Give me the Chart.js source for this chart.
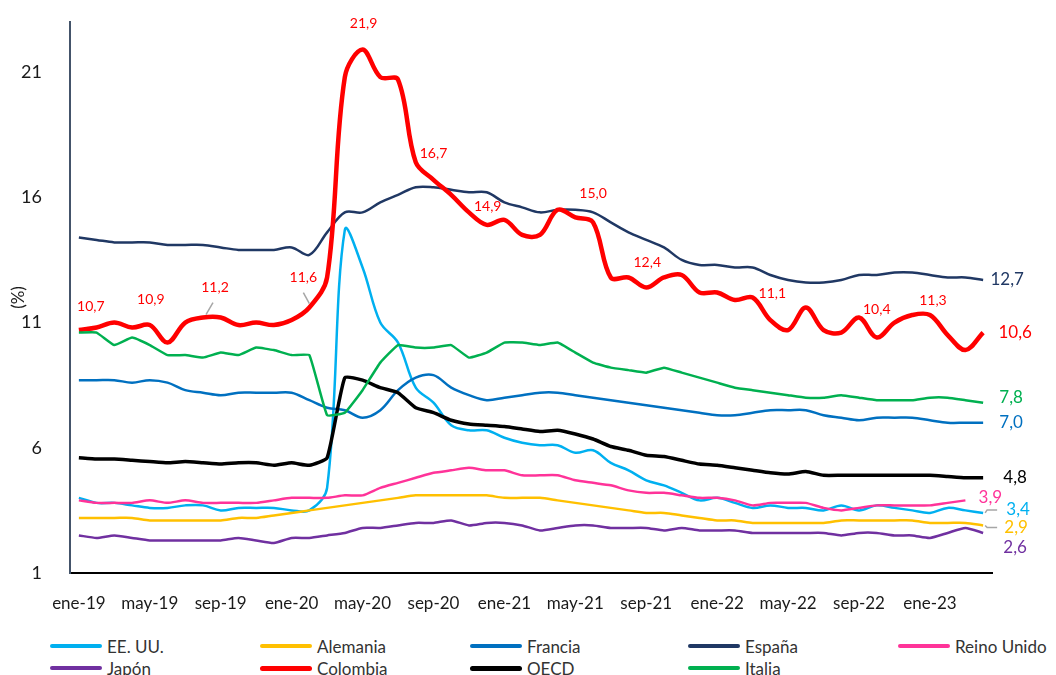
<!DOCTYPE html>
<html>
<head>
<meta charset="utf-8">
<script src="https://cdn.jsdelivr.net/npm/chart.js@4"></script>
<style>
  html, body { margin: 0; padding: 0; background: #fff; }
  #wrap { position: relative; width: 1056px; height: 675px; font-family: Lato, sans-serif; }
  #chart { position: absolute; left: 0; top: 0; }
  .item { position: absolute; display: flex; align-items: center; height: 22px; font-size: 17px; color: #333; }
  .item i { display: inline-block; width: 52px; border-radius: 3px; margin-right: 5px; }
</style>
</head>
<body>
<div id="wrap">
  <canvas id="chart" width="1056" height="620"></canvas>
  <div id="legend"></div>
</div>
<script>
// months ene-19 .. abr-23
const monthNames = ['ene', 'feb', 'mar', 'abr', 'may', 'jun', 'jul', 'ago', 'sep', 'oct', 'nov', 'dic'];
const years = ['19', '20', '21', '22', '23'];
const months = [];
years.forEach(y => monthNames.forEach(m => months.push(m + '-' + y)));
months.length = 52;

const yTicks = [1, 6, 11, 16, 21];

const eeuu = [4.0, 3.8, 3.8, 3.7, 3.6, 3.6, 3.7, 3.7, 3.5, 3.6, 3.6, 3.6,
  3.5, 3.5, 4.4, 14.7, 13.2, 11.0, 10.2, 8.4, 7.8, 6.9, 6.7, 6.7,
  6.4, 6.2, 6.1, 6.1, 5.8, 5.9, 5.4, 5.1, 4.7, 4.5, 4.2, 3.9,
  4.0, 3.8, 3.6, 3.7, 3.6, 3.6, 3.5, 3.7, 3.5, 3.7, 3.6, 3.5,
  3.4, 3.6, 3.5, 3.4];
const alemania = [3.2, 3.2, 3.2, 3.2, 3.1, 3.1, 3.1, 3.1, 3.1, 3.2, 3.2, 3.3,
  3.4, 3.5, 3.6, 3.7, 3.8, 3.9, 4.0, 4.1, 4.1, 4.1, 4.1, 4.1,
  4.0, 4.0, 4.0, 3.9, 3.8, 3.7, 3.6, 3.5, 3.4, 3.4, 3.3, 3.2,
  3.1, 3.1, 3.0, 3.0, 3.0, 3.0, 3.0, 3.1, 3.1, 3.1, 3.1, 3.1,
  3.0, 3.0, 3.0, 2.9];
const francia = [8.7, 8.7, 8.7, 8.6, 8.7, 8.6, 8.3, 8.2, 8.1, 8.2, 8.2, 8.2,
  8.2, 7.9, 7.6, 7.5, 7.2, 7.5, 8.3, 8.8, 8.9, 8.4, 8.1, 7.9,
  8.0, 8.1, 8.2, 8.2, 8.1, 8.0, 7.9, 7.8, 7.7, 7.6, 7.5, 7.4,
  7.3, 7.3, 7.4, 7.5, 7.5, 7.5, 7.3, 7.2, 7.1, 7.2, 7.2, 7.2,
  7.1, 7.0, 7.0, 7.0];
const espana = [14.4, 14.3, 14.2, 14.2, 14.2, 14.1, 14.1, 14.1, 14.0, 13.9, 13.9, 13.9,
  14.0, 13.7, 14.6, 15.4, 15.4, 15.8, 16.1, 16.4, 16.4, 16.3, 16.2, 16.2,
  15.8, 15.6, 15.4, 15.5, 15.5, 15.4, 15.0, 14.6, 14.3, 14.0, 13.5, 13.3,
  13.3, 13.2, 13.2, 12.9, 12.7, 12.6, 12.6, 12.7, 12.9, 12.9, 13.0, 13.0,
  12.9, 12.8, 12.8, 12.7];
const reinoUnido = [3.9, 3.8, 3.8, 3.8, 3.9, 3.8, 3.9, 3.8, 3.8, 3.8, 3.8, 3.9,
  4.0, 4.0, 4.0, 4.1, 4.1, 4.4, 4.6, 4.8, 5.0, 5.1, 5.2, 5.1,
  5.1, 4.9, 4.9, 4.9, 4.7, 4.6, 4.5, 4.3, 4.2, 4.2, 4.1, 4.0,
  4.0, 3.9, 3.7, 3.8, 3.8, 3.8, 3.6, 3.5, 3.6, 3.7, 3.7, 3.7,
  3.7, 3.8, 3.9, null];
const japon = [2.5, 2.4, 2.5, 2.4, 2.3, 2.3, 2.3, 2.3, 2.3, 2.4, 2.3, 2.2,
  2.4, 2.4, 2.5, 2.6, 2.8, 2.8, 2.9, 3.0, 3.0, 3.1, 2.9, 3.0,
  3.0, 2.9, 2.7, 2.8, 2.9, 2.9, 2.8, 2.8, 2.8, 2.7, 2.8, 2.7,
  2.7, 2.7, 2.6, 2.6, 2.6, 2.6, 2.6, 2.5, 2.6, 2.6, 2.5, 2.5,
  2.4, 2.6, 2.8, 2.6];
const colombia = [10.7, 10.8, 11.0, 10.8, 10.9, 10.2, 11.0, 11.2, 11.2, 10.9, 11.0, 10.9,
  11.1, 11.6, 12.8, 20.8, 21.9, 20.8, 20.7, 17.4, 16.7, 16.1, 15.4, 14.9,
  15.1, 14.5, 14.5, 15.5, 15.2, 15.0, 12.8, 12.8, 12.4, 12.8, 12.9, 12.2,
  12.2, 11.9, 12.0, 11.1, 10.7, 11.6, 10.7, 10.6, 11.2, 10.4, 11.0, 11.3,
  11.3, 10.5, 9.9, 10.6];
const oecd = [5.6, 5.55, 5.55, 5.5, 5.45, 5.4, 5.45, 5.4, 5.35, 5.4, 5.4, 5.3,
  5.4, 5.3, 5.6, 8.8, 8.7, 8.4, 8.2, 7.6, 7.4, 7.1, 6.95, 6.9,
  6.85, 6.75, 6.65, 6.7, 6.55, 6.35, 6.05, 5.9, 5.7, 5.65, 5.5, 5.35,
  5.3, 5.2, 5.1, 5.0, 4.95, 5.05, 4.9, 4.9, 4.9, 4.9, 4.9, 4.9,
  4.9, 4.85, 4.8, 4.8];
const italia = [10.6, 10.6, 10.1, 10.4, 10.1, 9.7, 9.7, 9.6, 9.8, 9.7, 10.0, 9.9,
  9.7, 9.7, 7.3, 7.4, 8.3, 9.4, 10.1, 10.0, 10.0, 10.1, 9.6, 9.8,
  10.2, 10.2, 10.1, 10.2, 9.8, 9.4, 9.2, 9.1, 9.0, 9.2, 9.0, 8.8,
  8.6, 8.4, 8.3, 8.2, 8.1, 8.0, 8.0, 8.1, 8.0, 7.9, 7.9, 7.9,
  8.0, 8.0, 7.9, 7.8];

// series in Excel order (last one drawn on top)
const series = [
  { label: 'EE. UU.', data: eeuu, color: '#00B0F0', width: 2.5, tension: 0.35 },
  { label: 'Alemania', data: alemania, color: '#FFC000', width: 2.5, tension: 0.3 },
  { label: 'Francia', data: francia, color: '#0070C0', width: 2.5, tension: 0.35 },
  { label: 'España', data: espana, color: '#203864', width: 2.5, tension: 0.35 },
  { label: 'Reino Unido', data: reinoUnido, color: '#FF3399', width: 2.5, tension: 0.2 },
  { label: 'Japón', data: japon, color: '#7030A0', width: 2.5, tension: 0.2 },
  { label: 'Colombia', data: colombia, color: '#FF0000', width: 4.5, tension: 0.35 },
  { label: 'OECD', data: oecd, color: '#000000', width: 3.5, tension: 0.15 },
  { label: 'Italia', data: italia, color: '#00B050', width: 2.5, tension: 0.1 }
];

// value labels: series, point index, offset from the point, font size, optional leader line
const pointLabels = [
  { s: 'Colombia', i: 0, dx: 12, dy: -24, size: 14 },
  { s: 'Colombia', i: 4, dx: 1, dy: -26, size: 14 },
  { s: 'Colombia', i: 7, dx: 12, dy: -30, size: 14, leader: [[3, -3], [10, -15]] },
  { s: 'Colombia', i: 13, dx: -6, dy: -30, size: 14, leader: [[-6, -15], [0, -4]] },
  { s: 'Colombia', i: 16, dx: 1, dy: -26, size: 14 },
  { s: 'Colombia', i: 20, dx: 0, dy: -26, size: 14 },
  { s: 'Colombia', i: 23, dx: 1, dy: -18, size: 14 },
  { s: 'Colombia', i: 29, dx: 0, dy: -29, size: 14 },
  { s: 'Colombia', i: 32, dx: 1, dy: -25, size: 14 },
  { s: 'Colombia', i: 39, dx: 2, dy: -27, size: 14 },
  { s: 'Colombia', i: 45, dx: 0, dy: -28, size: 14 },
  { s: 'Colombia', i: 48, dx: 3, dy: -15, size: 14 },
  { s: 'Colombia', i: 51, dx: 32, dy: 0, size: 17 },
  { s: 'España', i: 51, dx: 24, dy: 0, size: 17 },
  { s: 'Italia', i: 51, dx: 28, dy: -5, size: 17 },
  { s: 'Francia', i: 51, dx: 28, dy: 0, size: 17 },
  { s: 'OECD', i: 51, dx: 32, dy: 0, size: 17 },
  { s: 'Reino Unido', i: 50, dx: 25, dy: -3, size: 17 },
  { s: 'EE. UU.', i: 51, dx: 35, dy: -3, size: 17, leader: [[2, 0], [4, -3], [14, -3]] },
  { s: 'Alemania', i: 51, dx: 33, dy: 2, size: 17, leader: [[2, 0], [4, 2], [14, 2]] },
  { s: 'Japón', i: 51, dx: 32, dy: 15, size: 17 }
];

const fmt = v => v.toFixed(1).replace('.', ',');

const valueLabels = {
  id: 'valueLabels',
  afterDatasetsDraw(chart) {
    const ctx = chart.ctx;
    ctx.save();
    ctx.textAlign = 'center';
    ctx.textBaseline = 'middle';
    pointLabels.forEach(lb => {
      const di = series.findIndex(s => s.label === lb.s);
      const ds = chart.data.datasets[di];
      const pt = chart.getDatasetMeta(di).data[lb.i];
      if (lb.leader) {
        ctx.strokeStyle = '#A6A6A6';
        ctx.lineWidth = 1.5;
        ctx.beginPath();
        lb.leader.forEach((p, k) => {
          if (k === 0) ctx.moveTo(pt.x + p[0], pt.y + p[1]);
          else ctx.lineTo(pt.x + p[0], pt.y + p[1]);
        });
        ctx.stroke();
      }
      ctx.font = lb.size + 'px Lato';
      ctx.fillStyle = ds.borderColor;
      ctx.fillText(fmt(ds.data[lb.i]), pt.x + lb.dx, pt.y + lb.dy);
    });
    ctx.restore();
  }
};

const ctx = document.getElementById('chart').getContext('2d');

let chart = new Chart(ctx, {
  type: 'line',
  data: {
    labels: months,
    datasets: series.map((s, k) => ({
      label: s.label,
      data: s.data,
      borderColor: s.color,
      backgroundColor: s.color,
      borderWidth: s.width,
      tension: s.tension,
      pointRadius: 0,
      fill: false,
      order: series.length - k
    }))
  },
  options: {
    responsive: false,
    animation: false,
    layout: { padding: { left: 0, right: 64, top: 22, bottom: 0 } },
    plugins: {
      legend: { display: false },
      tooltip: { enabled: false }
    },
    scales: {
      x: {
        offset: true,
        grid: { display: false },
        border: { display: true, color: '#000', width: 2 },
        ticks: {
          autoSkip: false,
          maxRotation: 0,
          padding: 12,
          color: '#1a1a1a',
          font: { family: 'Lato', size: 17 },
          callback: function (v, i) { return i % 4 === 0 ? this.getLabelForValue(v) : ''; }
        },
        afterFit: s => { s.height = 47; }
      },
      y: {
        min: 1,
        max: 23,
        afterBuildTicks: s => { s.ticks = yTicks.map(v => ({ value: v })); },
        grid: { display: false },
        border: { display: true, color: '#44546A', width: 2 },
        ticks: { padding: 20, color: '#1a1a1a', font: { family: 'Lato', size: 18 } },
        title: { display: true, text: '(%)', color: '#1a1a1a', font: { family: 'Lato', size: 17 }, padding: { top: 8, bottom: 0 } },
        afterFit: s => { s.width = 70; s.paddingTop = 0; s.paddingBottom = 0; }
      }
    }
  },
  plugins: [valueLabels]
});

// legend in Excel's 5-column grid
const legendCols = [50, 260, 470, 688, 898];
const legendRows = [635, 657];
const legend = document.getElementById('legend');
series.forEach((s, k) => {
  const el = document.createElement('div');
  el.className = 'item';
  el.style.left = legendCols[k % 5] + 'px';
  el.style.top = legendRows[Math.floor(k / 5)] + 'px';
  const line = document.createElement('i');
  line.style.background = s.color;
  line.style.height = (s.width > 3 ? 5 : 4) + 'px';
  el.appendChild(line);
  el.appendChild(document.createTextNode(s.label));
  legend.appendChild(el);
});
</script>
</body>
</html>
